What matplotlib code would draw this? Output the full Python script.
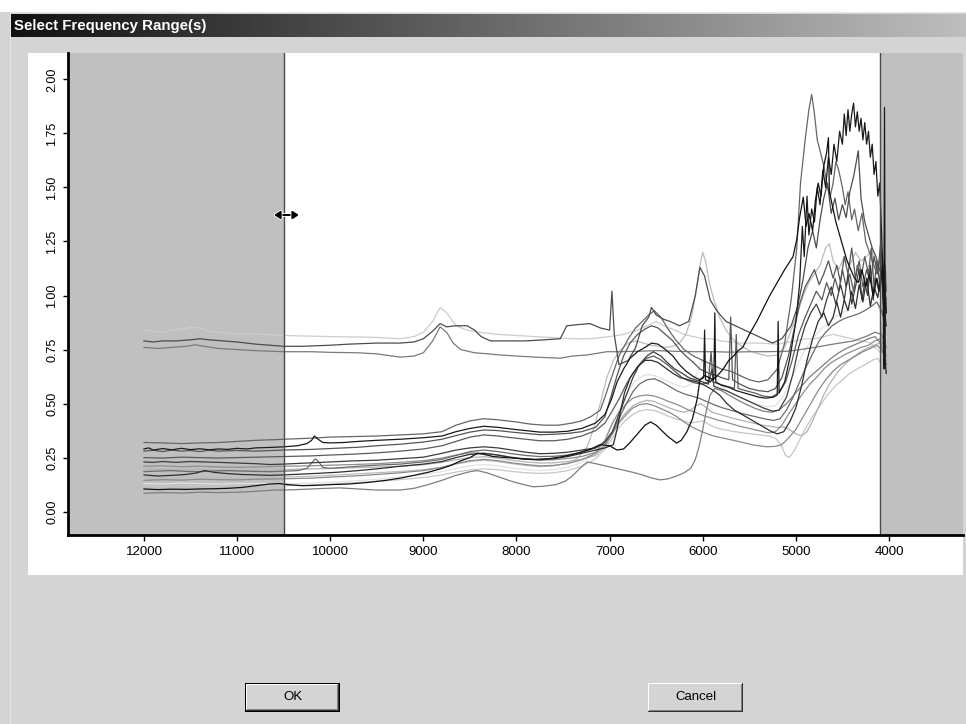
import numpy as np
import matplotlib.pyplot as plt
from matplotlib.patches import Rectangle
from matplotlib.colors import LinearSegmentedColormap
import matplotlib.patheffects as pe

W, H = 966, 724  # window size in pixels

# spectra as (wavenumber cm-1, absorbance) pairs
s01 = [(12000,.84),(11900,.835),(11800,.83),(11700,.84),(11600,.845),(11500,.852),(11400,.85),(11300,.835),(11100,.825),(10900,.822),(10700,.82),(10500,.815),(10200,.812),(10000,.81),(9700,.808),(9500,.806),(9250,.80),(9100,.81),(9000,.83),(8900,.88),(8820,.945),(8750,.92),(8650,.86),(8530,.84),(8400,.83),(8200,.82),(8000,.815),(7800,.81),(7600,.805),(7400,.80),(7200,.80),(7000,.81),(6850,.82),(6700,.84),(6600,.86),(6500,.88),(6420,.86),(6300,.84),(6200,.82),(6100,.81),(6000,.80),(5900,.80),(5800,.79),(5600,.78),(5400,.78),(5200,.775),(5000,.79),(4900,.80),(4800,.80),(4700,.81),(4600,.82),(4500,.81),(4400,.80),(4300,.79),(4200,.78),(4100,.74),(4050,.70),(4030,.68)]
s02 = [(12000,.79),(11900,.785),(11800,.79),(11650,.79),(11500,.795),(11400,.80),(11300,.795),(11150,.79),(11000,.785),(10800,.775),(10650,.77),(10500,.765),(10300,.765),(10000,.77),(9800,.775),(9500,.78),(9250,.78),(9100,.785),(9000,.80),(8900,.835),(8820,.87),(8750,.855),(8650,.86),(8530,.86),(8450,.84),(8380,.81),(8280,.79),(8100,.79),(7900,.79),(7700,.795),(7530,.80),(7460,.86),(7350,.865),(7210,.87),(7100,.85),(7000,.84),(6975,1.02),(6950,.82),(6900,.68),(6800,.70),(6720,.76),(6650,.86),(6580,.90),(6550,.945),(6500,.91),(6420,.89),(6350,.88),(6250,.86),(6150,.88),(6080,1.00),(6030,1.13),(5980,1.09),(5920,.98),(5850,.93),(5750,.88),(5650,.86),(5550,.84),(5450,.82),(5350,.80),(5250,.78),(5150,.80),(5050,.86),(4980,.95),(4920,1.08),(4870,1.22),(4820,1.30),(4780,1.22),(4740,1.35),(4700,1.45),(4660,1.52),(4620,1.38),(4580,1.45),(4540,1.35),(4500,1.42),(4460,1.36),(4420,1.48),(4380,1.55),(4350,1.62),(4330,1.67),(4300,1.45),(4260,1.34),(4220,1.28),(4180,1.22),(4140,1.18),(4100,1.12),(4060,1.06),(4030,.96)]
s03 = [(12000,.76),(11850,.755),(11700,.76),(11550,.765),(11450,.772),(11350,.765),(11200,.755),(11000,.75),(10800,.745),(10500,.74),(10200,.74),(10000,.737),(9700,.735),(9500,.73),(9250,.715),(9100,.72),(9000,.735),(8900,.79),(8820,.855),(8750,.83),(8680,.78),(8600,.75),(8450,.735),(8300,.73),(8180,.725),(8000,.72),(7800,.715),(7530,.71),(7400,.72),(7240,.725),(7030,.74),(6900,.74),(6700,.742),(6500,.745),(6300,.742),(6100,.74),(5900,.74),(5700,.738),(5500,.74),(5300,.74),(5100,.742),(4950,.75),(4800,.76),(4600,.775),(4380,.79),(4250,.81),(4150,.83),(4080,.82),(4030,.76)]
s04 = [(12000,.32),(11800,.318),(11600,.315),(11400,.318),(11200,.32),(11000,.325),(10800,.33),(10600,.333),(10500,.335),(10200,.34),(10000,.345),(9700,.348),(9500,.35),(9250,.355),(9000,.36),(8800,.37),(8650,.40),(8500,.42),(8350,.43),(8200,.425),(8000,.415),(7850,.405),(7700,.40),(7550,.40),(7400,.41),(7300,.42),(7200,.44),(7100,.47),(7050,.53),(6980,.62),(6900,.72),(6800,.80),(6720,.85),(6650,.88),(6580,.91),(6520,.93),(6450,.90),(6380,.85),(6300,.80),(6200,.75),(6100,.72),(6000,.70),(5900,.68),(5800,.66),(5700,.65),(5600,.63),(5500,.61),(5400,.60),(5300,.61),(5200,.66),(5120,.78),(5050,.98),(4990,1.22),(4950,1.52),(4900,1.72),(4860,1.86),(4830,1.93),(4800,1.84),(4770,1.72),(4740,1.67),(4700,1.60),(4660,1.50),(4630,1.46),(4600,1.52),(4570,1.62),(4540,1.58),(4500,1.50),(4470,1.42),(4440,1.48),(4400,1.35),(4370,1.40),(4330,1.30),(4290,1.38),(4250,1.25),(4210,1.20),(4170,1.15),(4130,1.10),(4090,1.18),(4060,1.05),(4030,.98)]
s05 = [(12000,.29),(11950,.295),(11900,.285),(11800,.292),(11700,.286),(11600,.293),(11500,.287),(11400,.291),(11300,.286),(11200,.29),(11100,.288),(11000,.293),(10900,.29),(10800,.295),(10650,.297),(10500,.30),(10350,.305),(10250,.315),(10200,.33),(10170,.35),(10130,.335),(10080,.32),(10000,.318),(9850,.32),(9700,.325),(9500,.33),(9250,.335),(9000,.342),(8800,.35),(8650,.37),(8500,.385),(8350,.395),(8200,.39),(8050,.382),(7900,.375),(7750,.368),(7600,.368),(7450,.372),(7300,.385),(7150,.41),(7050,.45),(6980,.52),(6920,.60),(6850,.66),(6780,.71),(6700,.74),(6620,.76),(6550,.78),(6480,.775),(6400,.75),(6320,.72),(6250,.68),(6180,.65),(6100,.625),(6030,.61),(5990,.62),(5980,.84),(5970,.61),(5920,.60),(5880,.62),(5870,.92),(5860,.60),(5800,.585),(5720,.575),(5640,.56),(5560,.55),(5480,.54),(5400,.53),(5320,.525),(5240,.53),(5200,.54),(5190,.88),(5180,.55),(5120,.60),(5060,.72),(5000,.88),(4960,1.05),(4930,1.32),(4910,1.18),(4880,1.46),(4860,1.28),(4830,1.40),(4800,1.34),(4770,1.50),(4740,1.42),(4710,1.58),(4680,1.50),(4650,1.64),(4620,1.56),(4590,1.70),(4560,1.62),(4530,1.76),(4500,1.70),(4480,1.84),(4460,1.74),(4440,1.86),(4420,1.76),(4400,1.84),(4380,1.89),(4360,1.78),(4340,1.85),(4320,1.76),(4300,1.82),(4280,1.72),(4260,1.80),(4240,1.70),(4220,1.76),(4200,1.64),(4180,1.70),(4160,1.56),(4140,1.62),(4120,1.46),(4100,1.52),(4080,1.30),(4065,1.10),(4055,.66),(4048,1.87),(4040,.70),(4030,.64)]
s06 = [(12000,.23),(11900,.228),(11800,.232),(11650,.228),(11500,.232),(11350,.23),(11200,.228),(11000,.225),(10800,.222),(10650,.218),(10500,.22),(10300,.224),(10000,.23),(9750,.235),(9500,.238),(9250,.245),(9000,.252),(8800,.27),(8650,.285),(8500,.295),(8350,.30),(8200,.295),(8050,.285),(7900,.275),(7750,.268),(7600,.27),(7450,.275),(7300,.285),(7150,.295),(7050,.32),(6970,.37),(6900,.45),(6820,.54),(6750,.62),(6680,.68),(6600,.72),(6530,.74),(6450,.72),(6380,.69),(6300,.66),(6220,.64),(6150,.62),(6080,.61),(6000,.60),(5940,.59),(5900,.66),(5880,.58),(5820,.57),(5750,.56),(5650,.54),(5550,.52),(5450,.50),(5350,.48),(5250,.465),(5180,.47),(5100,.53),(5030,.64),(4970,.76),(4900,.86),(4840,.92),(4780,.96),(4720,.90),(4670,.98),(4620,1.04),(4570,.96),(4520,1.05),(4480,.98),(4440,1.10),(4400,.96),(4360,1.04),(4320,1.12),(4290,.98),(4260,1.06),(4230,1.00),(4200,1.14),(4170,.98),(4140,1.08),(4110,1.02),(4080,1.12),(4060,.96),(4040,1.05),(4030,.92)]
s07 = [(12000,.21),(11800,.212),(11600,.208),(11400,.21),(11200,.207),(11000,.205),(10800,.207),(10500,.21),(10200,.212),(10000,.215),(9750,.218),(9500,.222),(9250,.228),(9000,.236),(8800,.248),(8650,.262),(8500,.272),(8350,.27),(8200,.262),(8050,.252),(7900,.244),(7750,.238),(7600,.24),(7450,.246),(7300,.255),(7150,.275),(7050,.33),(6970,.41),(6900,.46),(6820,.50),(6750,.525),(6680,.535),(6600,.54),(6520,.535),(6450,.525),(6370,.51),(6300,.50),(6220,.485),(6150,.47),(6080,.46),(6000,.445),(5920,.435),(5850,.425),(5760,.415),(5680,.405),(5600,.395),(5500,.385),(5400,.375),(5300,.365),(5220,.37),(5150,.40),(5080,.45),(5000,.50),(4920,.55),(4850,.59),(4780,.62),(4700,.66),(4620,.69),(4540,.71),(4460,.73),(4380,.745),(4300,.76),(4220,.77),(4150,.79),(4090,.80),(4050,.76),(4030,.72)]
s08 = [(12000,.17),(11850,.165),(11700,.168),(11550,.172),(11450,.178),(11350,.19),(11250,.182),(11100,.176),(10950,.172),(10800,.17),(10650,.168),(10500,.17),(10300,.174),(10100,.178),(9900,.183),(9700,.19),(9500,.198),(9250,.21),(9000,.22),(8800,.232),(8650,.25),(8500,.265),(8350,.27),(8200,.262),(8050,.25),(7900,.242),(7750,.24),(7600,.245),(7450,.255),(7300,.27),(7150,.285),(7050,.295),(6960,.31),(6920,.38),(6880,.47),(6840,.55),(6780,.62),(6700,.67),(6620,.70),(6550,.70),(6480,.69),(6400,.665),(6320,.64),(6240,.62),(6150,.61),(6060,.60),(5980,.585),(5900,.565),(5820,.54),(5740,.50),(5660,.47),(5580,.45),(5500,.43),(5420,.41),(5340,.39),(5260,.37),(5200,.36),(5130,.37),(5060,.42),(5000,.48),(4940,.58),(4880,.70),(4820,.80),(4760,.88),(4700,.92),(4650,.86),(4600,.90),(4560,.97),(4520,.90),(4480,.98),(4440,.93),(4400,1.02),(4360,.94),(4320,1.05),(4280,.97),(4240,1.08),(4200,.95),(4160,1.04),(4120,.99),(4080,1.10),(4050,.94),(4030,.86)]
s09 = [(12000,.155),(11850,.158),(11700,.155),(11550,.16),(11400,.158),(11200,.156),(11000,.155),(10800,.157),(10500,.16),(10200,.164),(10000,.168),(9750,.174),(9500,.18),(9250,.186),(9000,.194),(8800,.205),(8650,.22),(8500,.232),(8350,.238),(8200,.232),(8050,.222),(7900,.214),(7750,.208),(7600,.212),(7450,.225),(7350,.245),(7240,.30),(7160,.40),(7100,.50),(7030,.62),(6960,.70),(6880,.75),(6800,.78),(6720,.79),(6640,.78),(6560,.77),(6480,.765),(6400,.76),(6320,.765),(6250,.78),(6180,.82),(6120,.90),(6070,1.02),(6030,1.14),(6000,1.20),(5970,1.16),(5930,1.06),(5880,.98),(5820,.90),(5750,.84),(5680,.80),(5600,.77),(5500,.745),(5400,.73),(5300,.72),(5200,.725),(5120,.76),(5050,.84),(4980,.92),(4920,1.00),(4860,1.06),(4800,1.10),(4740,1.14),(4680,1.22),(4640,1.24),(4600,1.16),(4540,1.12),(4480,1.18),(4420,1.14),(4360,1.20),(4300,1.16),(4240,1.18),(4180,1.21),(4130,1.12),(4080,1.04),(4040,.92),(4030,.88)]
s10 = [(12000,.13),(11800,.128),(11600,.132),(11400,.13),(11200,.128),(11000,.13),(10800,.131),(10500,.13),(10200,.132),(10000,.136),(9750,.142),(9500,.15),(9250,.16),(9000,.172),(8800,.185),(8650,.2),(8500,.212),(8350,.218),(8200,.212),(8050,.202),(7900,.195),(7750,.19),(7600,.194),(7450,.205),(7300,.228),(7150,.27),(7050,.33),(6970,.40),(6900,.47),(6820,.54),(6750,.59),(6680,.62),(6600,.635),(6520,.63),(6440,.615),(6360,.60),(6280,.585),(6200,.575),(6120,.59),(6060,.64),(6010,.70),(5960,.68),(5900,.63),(5820,.59),(5740,.56),(5660,.54),(5580,.525),(5500,.51),(5400,.495),(5300,.485),(5220,.49),(5140,.53),(5060,.60),(4980,.68),(4900,.75),(4820,.80),(4740,.84),(4660,.87),(4580,.90),(4500,.92),(4420,.94),(4340,.96),(4260,.98),(4180,.99),(4120,.96),(4070,.88),(4030,.80)]
s11 = [(12000,.105),(11850,.102),(11700,.104),(11550,.103),(11400,.105),(11250,.106),(11100,.108),(10950,.112),(10800,.12),(10650,.128),(10550,.13),(10450,.125),(10300,.12),(10150,.122),(10000,.125),(9800,.128),(9600,.135),(9400,.145),(9250,.155),(9100,.168),(8950,.182),(8800,.20),(8700,.215),(8600,.235),(8500,.25),(8420,.27),(8350,.265),(8250,.255),(8100,.25),(7950,.245),(7800,.242),(7650,.245),(7500,.255),(7350,.27),(7200,.29),(7100,.31),(7000,.305),(6920,.285),(6850,.29),(6780,.32),(6700,.36),(6620,.40),(6560,.415),(6500,.40),(6440,.375),(6380,.35),(6320,.33),(6280,.317),(6230,.33),(6170,.37),(6110,.43),(6060,.52),(6030,.61),(5980,.63),(5930,.62),(5890,.61),(5840,.63),(5780,.66),(5720,.70),(5670,.72),(5620,.745),(5570,.76),(5500,.82),(5420,.88),(5350,.94),(5280,1.00),(5200,1.06),(5120,1.12),(5060,1.16),(5030,1.18),(4990,1.26),(4960,1.36),(4920,1.455),(4890,1.32),(4860,1.38),(4820,1.30),(4790,1.44),(4760,1.52),(4730,1.46),(4700,1.60),(4670,1.66),(4650,1.73),(4640,1.48),(4610,1.42),(4570,1.34),(4530,1.28),(4490,1.22),(4450,1.16),(4410,1.12),(4370,1.08),(4330,1.06),(4290,1.12),(4250,1.04),(4210,1.10),(4170,1.00),(4130,1.08),(4100,1.02),(4070,1.14),(4050,1.00),(4030,.92)]
s12 = [(12000,.085),(11800,.088),(11600,.086),(11400,.09),(11200,.088),(11000,.09),(10800,.094),(10600,.10),(10500,.10),(10300,.103),(10100,.107),(9900,.11),(9700,.105),(9500,.10),(9250,.10),(9100,.108),(8950,.125),(8800,.145),(8650,.168),(8500,.185),(8420,.19),(8320,.18),(8200,.162),(8050,.14),(7920,.125),(7820,.115),(7700,.118),(7580,.125),(7480,.14),(7400,.165),(7320,.20),(7240,.23),(7150,.222),(7050,.212),(6950,.202),(6850,.192),(6750,.182),(6650,.17),(6550,.156),(6460,.147),(6370,.152),(6280,.165),(6200,.18),(6130,.20),(6080,.24),(6040,.30),(6000,.38),(5960,.47),(5920,.54),(5870,.57),(5800,.56),(5720,.54),(5640,.52),(5550,.50),(5450,.48),(5350,.465),(5260,.46),(5180,.47),(5100,.50),(5020,.54),(4940,.58),(4860,.62),(4780,.65),(4700,.68),(4620,.71),(4540,.735),(4460,.755),(4380,.77),(4300,.785),(4220,.80),(4150,.81),(4090,.78),(4050,.72),(4030,.68)]
s13 = [(12000,.28),(11900,.284),(11800,.278),(11700,.285),(11600,.28),(11500,.283),(11400,.278),(11300,.284),(11200,.28),(11000,.283),(10800,.28),(10500,.285),(10200,.288),(10000,.292),(9700,.298),(9500,.305),(9250,.312),(9000,.322),(8800,.335),(8650,.352),(8500,.368),(8350,.378),(8200,.375),(8050,.368),(7900,.362),(7750,.356),(7600,.358),(7450,.362),(7300,.37),(7150,.39),(7050,.44),(6980,.54),(6920,.63),(6850,.72),(6780,.78),(6700,.82),(6620,.845),(6550,.86),(6480,.85),(6400,.82),(6320,.79),(6250,.75),(6180,.72),(6100,.69),(6030,.66),(5960,.645),(5900,.635),(5850,.63),(5800,.62),(5720,.61),(5700,.90),(5680,.61),(5600,.59),(5500,.57),(5400,.56),(5300,.555),(5220,.57),(5150,.62),(5080,.72),(5020,.84),(4960,.96),(4900,1.04),(4850,1.08),(4800,1.12),(4750,1.05),(4700,1.10),(4650,1.16),(4600,1.08),(4560,1.14),(4520,1.06),(4480,1.18),(4440,1.10),(4400,1.22),(4360,1.08),(4320,1.16),(4280,1.04),(4240,1.12),(4200,1.06),(4160,1.18),(4120,1.10),(4090,1.24),(4060,1.08),(4040,1.14),(4030,1.02)]
s14 = [(12000,.195),(11800,.197),(11600,.194),(11400,.196),(11200,.193),(11000,.19),(10800,.192),(10500,.195),(10200,.198),(10000,.20),(9750,.203),(9500,.206),(9250,.21),(9000,.217),(8800,.228),(8650,.24),(8500,.25),(8350,.254),(8200,.248),(8050,.238),(7900,.23),(7750,.225),(7600,.226),(7450,.232),(7300,.242),(7150,.26),(7050,.30),(6970,.36),(6900,.42),(6820,.46),(6750,.49),(6680,.505),(6600,.515),(6520,.51),(6440,.495),(6360,.48),(6280,.468),(6200,.46),(6130,.47),(6070,.49),(6020,.50),(5960,.48),(5900,.46),(5820,.45),(5740,.44),(5660,.43),(5560,.42),(5460,.41),(5360,.40),(5280,.395),(5200,.39),(5130,.392),(5070,.38),(5000,.36),(4940,.35),(4880,.37),(4820,.42),(4760,.48),(4700,.54),(4640,.59),(4560,.64),(4480,.68),(4400,.71),(4320,.735),(4240,.755),(4160,.77),(4100,.78),(4060,.76),(4030,.72)]
s15 = [(12000,.145),(11800,.148),(11600,.146),(11400,.15),(11200,.148),(11000,.147),(10800,.15),(10500,.152),(10200,.155),(10000,.16),(9750,.165),(9500,.172),(9250,.18),(9000,.19),(8800,.205),(8650,.222),(8500,.236),(8350,.242),(8200,.236),(8050,.226),(7900,.218),(7750,.212),(7600,.214),(7450,.222),(7300,.24),(7150,.27),(7050,.31),(6970,.36),(6900,.41),(6820,.45),(6750,.48),(6680,.495),(6600,.50),(6520,.49),(6440,.475),(6360,.46),(6280,.44),(6200,.415),(6130,.395),(6060,.38),(5980,.365),(5900,.352),(5800,.342),(5670,.33),(5550,.318),(5450,.308),(5310,.30),(5220,.302),(5150,.31),(5080,.34),(5000,.38),(4920,.44),(4840,.50),(4760,.56),(4680,.61),(4600,.65),(4520,.68),(4440,.70),(4360,.72),(4280,.74),(4200,.755),(4130,.77),(4080,.75),(4030,.70)]
s16 = [(12000,.25),(11800,.248),(11600,.252),(11400,.25),(11200,.248),(11000,.25),(10800,.252),(10500,.255),(10200,.258),(10000,.262),(9750,.266),(9500,.272),(9250,.28),(9000,.29),(8800,.305),(8650,.325),(8500,.345),(8350,.355),(8200,.35),(8050,.342),(7900,.335),(7750,.328),(7600,.328),(7450,.335),(7300,.35),(7150,.375),(7050,.41),(6980,.46),(6900,.52),(6820,.59),(6750,.64),(6680,.68),(6600,.71),(6530,.72),(6460,.705),(6380,.68),(6300,.65),(6220,.62),(6150,.605),(6080,.595),(6000,.59),(5940,.60),(5910,.74),(5890,.60),(5820,.59),(5740,.58),(5660,.57),(5640,.82),(5620,.57),(5540,.56),(5450,.55),(5350,.535),(5260,.53),(5180,.55),(5110,.60),(5040,.70),(4970,.82),(4900,.90),(4840,.96),(4780,1.02),(4720,.98),(4670,1.06),(4620,1.00),(4580,1.08),(4540,1.02),(4500,1.12),(4460,1.04),(4420,1.10),(4380,1.02),(4340,1.14),(4300,1.08),(4260,1.18),(4220,1.10),(4190,1.22),(4160,1.04),(4130,1.16),(4100,1.06),(4070,1.20),(4050,1.00),(4030,.94)]
s17 = [(12000,.12),(11800,.118),(11600,.121),(11400,.12),(11200,.119),(11000,.12),(10800,.121),(10500,.12),(10200,.123),(10000,.127),(9750,.133),(9500,.14),(9250,.148),(9000,.158),(8800,.17),(8650,.183),(8500,.193),(8350,.198),(8200,.194),(8050,.186),(7900,.18),(7750,.177),(7600,.18),(7450,.19),(7300,.21),(7150,.245),(7050,.29),(6970,.34),(6900,.39),(6820,.425),(6750,.45),(6680,.465),(6600,.472),(6520,.468),(6440,.455),(6360,.44),(6280,.428),(6200,.42),(6130,.41),(6060,.415),(6000,.42),(5940,.405),(5870,.39),(5780,.38),(5680,.372),(5580,.365),(5480,.36),(5380,.355),(5290,.35),(5220,.34),(5160,.31),(5110,.26),(5070,.25),(5020,.28),(4960,.33),(4890,.39),(4820,.44),(4740,.49),(4660,.54),(4580,.58),(4500,.61),(4420,.64),(4340,.66),(4260,.68),(4180,.70),(4120,.71),(4070,.67),(4030,.62)]
s18 = [(12000,.185),(11850,.188),(11700,.19),(11550,.186),(11400,.185),(11250,.188),(11100,.19),(10950,.188),(10800,.186),(10650,.185),(10500,.187),(10350,.19),(10250,.20),(10200,.225),(10160,.245),(10120,.228),(10080,.205),(10000,.20),(9850,.205),(9700,.21),(9500,.215),(9250,.22),(9000,.23),(8800,.242),(8650,.26),(8500,.278),(8350,.285),(8200,.278),(8050,.268),(7900,.26),(7750,.255),(7600,.256),(7450,.262),(7300,.275),(7150,.295),(7050,.325),(6970,.37),(6900,.43),(6820,.50),(6750,.555),(6680,.59),(6600,.61),(6520,.615),(6440,.60),(6360,.58),(6280,.56),(6200,.545),(6120,.535),(6040,.525),(5960,.51),(5880,.495),(5800,.482),(5720,.472),(5640,.462),(5560,.452),(5480,.444),(5400,.436),(5320,.428),(5240,.422),(5170,.43),(5100,.47),(5030,.53),(4960,.60),(4890,.67),(4820,.73),(4750,.79),(4680,.83),(4610,.86),(4540,.88),(4470,.895),(4400,.905),(4330,.915),(4260,.93),(4190,.95),(4130,.97),(4080,.93),(4030,.86)]

# spectrum and its grey level, light ones drawn first
spectra = [(s10, '#e2e2e2'), (s01, '#cdcdcd'), (s17, '#c6c6c6'), (s09, '#bcbcbc'),
           (s14, '#b2b2b2'), (s07, '#8e8e8e'), (s15, '#8a8a8a'), (s12, '#7e7e7e'),
           (s03, '#7a7a7a'), (s18, '#6c6c6c'), (s04, '#666666'), (s16, '#5a5a5a'),
           (s13, '#555555'), (s02, '#4c4c4c'), (s06, '#3c3c3c'), (s08, '#2e2e2e'),
           (s05, '#1a1a1a'), (s11, '#111111')]

xticks = [12000, 11000, 10000, 9000, 8000, 7000, 6000, 5000, 4000]
yticks = [0.0, 0.25, 0.5, 0.75, 1.0, 1.25, 1.5, 1.75, 2.0]
sel_lo, sel_hi = 4100, 10500   # selected frequency range
x_left, x_right = 12816, 3205
y_bot, y_top = -0.108, 2.122

plt.rcParams['font.family'] = ['Liberation Sans', 'DejaVu Sans']

fig = plt.figure(figsize=(W/100, H/100), dpi=100)
fig.patch.set_facecolor('#d4d4d4')

# window chrome drawn in pixel coordinates
bg = fig.add_axes([0, 0, 1, 1])
bg.set_zorder(0)
bg.axis('off')

def rect(x0, y0, x1, y1, fc):
    bg.add_patch(Rectangle((x0, y0), x1-x0, y1-y0, facecolor=fc, edgecolor='none'))

rect(0, 0, W, 12, 'white')
rect(10, 12, W, 13, '#e6e6e6')
rect(10, 13, 11, H, '#e6e6e6')
cap = LinearSegmentedColormap.from_list('cap', ['#111111', '#bebebe'])
bg.imshow(np.linspace(0, 1, 256).reshape(1, -1), cmap=cap, extent=(11, W, 37, 14), aspect='auto')
bg.text(14, 26, 'Select Frequency Range(s)', color='white', fontweight='bold',
        fontsize=10.8, va='center', ha='left', family='Liberation Sans')
rect(28, 53, 963, 575, 'white')

def button(x0, y0, x1, y1, label, default=False):
    if default:
        rect(x0, y0, x1, y1, 'black')
        x0, y0, x1, y1 = x0+1, y0+1, x1-1, y1-1
    rect(x0, y0, x1, y1, '#333333')
    rect(x0, y0, x1-1, y1-1, 'white')
    rect(x0+1, y0+1, x1-1, y1-1, '#808080')
    rect(x0+1, y0+1, x1-2, y1-2, '#d4d4d4')
    bg.text((x0+x1)/2, (y0+y1)/2, label, ha='center', va='center', fontsize=9.5, color='black')

button(245, 683, 340, 712, 'OK', default=True)
button(648, 683, 743, 712, 'Cancel')
bg.set_xlim(0, W)
bg.set_ylim(H, 0)

# spectra plot
ax = fig.add_axes([68/W, 1-535/H, (963-68)/W, (535-53)/H])
ax.set_zorder(1)
ax.set_facecolor('white')
ax.axvspan(x_left, sel_hi, color='#c0c0c0', lw=0)
ax.axvspan(sel_lo, x_right, color='#c0c0c0', lw=0)
for data, c in spectra:
    wn, a = zip(*data)
    ax.plot(wn, a, color=c, lw=0.9)
ax.axvline(sel_hi, color='#4a4a4a', lw=1)
ax.axvline(sel_lo, color='#4a4a4a', lw=1)

ax.set_xlim(x_left, x_right)
ax.set_ylim(y_bot, y_top)
for s in ['top', 'right']:
    ax.spines[s].set_visible(False)
for s in ['left', 'bottom']:
    ax.spines[s].set_linewidth(2)
ax.set_xticks(xticks)
ax.set_xticklabels([str(t) for t in xticks])
ax.set_yticks(yticks)
ax.set_yticklabels(['%.2f' % v for v in yticks], rotation=90, va='center')
ax.tick_params(axis='x', direction='out', length=4.5, width=1, labelsize=9.5, pad=3.5)
ax.tick_params(axis='y', direction='out', length=3.6, width=1, labelsize=9, pad=3.5)

# resize cursor on the range boundary
ax.annotate('', xy=(299, 215), xytext=(274, 215), xycoords=bg.transData, textcoords=bg.transData,
            arrowprops=dict(arrowstyle='<|-|>,head_length=0.35,head_width=0.22', color='black', lw=1.4,
                            shrinkA=0, shrinkB=0,
                            path_effects=[pe.withStroke(linewidth=2.6, foreground='white')]),
            annotation_clip=False)

plt.savefig('out.png', dpi=100, facecolor=fig.get_facecolor())
